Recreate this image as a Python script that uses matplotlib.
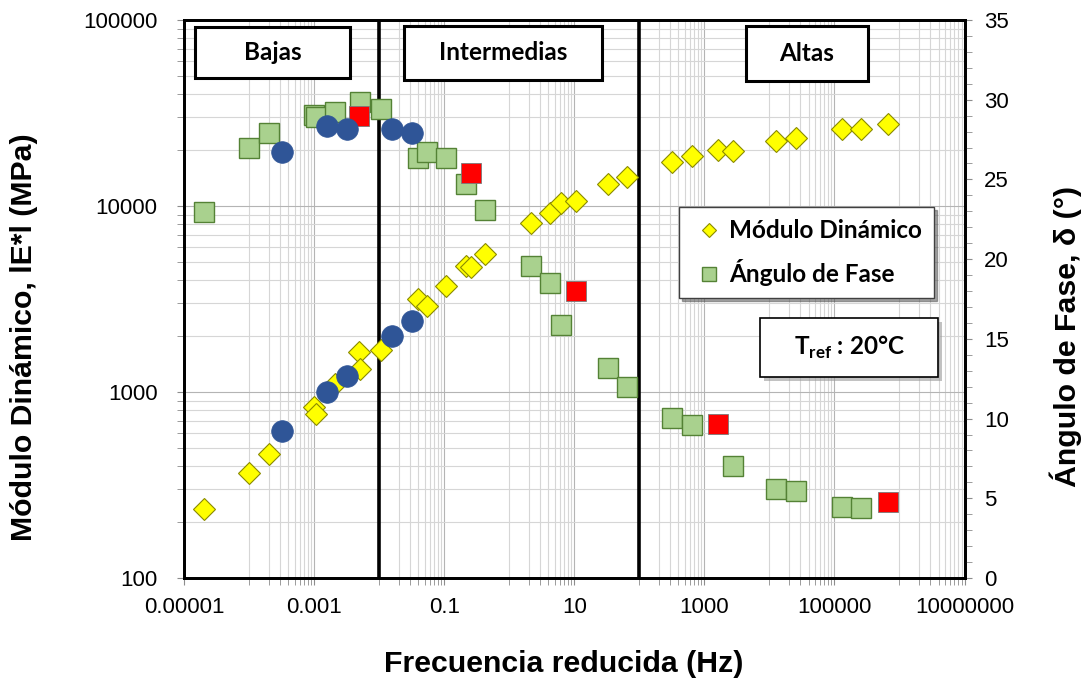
import numpy as np
import matplotlib.pyplot as plt
from matplotlib.lines import Line2D
from matplotlib.patches import Rectangle
from matplotlib.font_manager import FontProperties
from matplotlib.ticker import FixedLocator, LogLocator, MultipleLocator, NullFormatter, FuncFormatter

plt.rcParams['font.family'] = ['Liberation Sans', 'DejaVu Sans']
plt.rcParams['mathtext.fontset'] = 'custom'
plt.rcParams['mathtext.rm'] = 'Lato:bold'
plt.rcParams['mathtext.bf'] = 'Lato:bold'

# modulo dinamico |E*| (MPa) vs frecuencia reducida (Hz)
frec_mod = [2.0e-5, 1.0e-4, 2.0e-4, 1.0e-3, 1.07e-3, 2.1e-3, 4.9e-3, 5.1e-3, 1.06e-2,
            0.040, 0.054, 0.107, 0.22, 0.26, 0.427, 2.18, 4.27, 6.24, 10.6, 32.5, 64.6,
            318, 646, 1603, 2724, 12820, 25700, 131200, 257000, 661000]
modulo = [235, 365, 463, 826, 761, 1104, 1634, 1330, 1690,
          3168, 2917, 3737, 4750, 4690, 5534, 8090, 9160, 10370, 10590, 13180, 14310,
          17230, 18570, 19900, 19750, 22380, 23210, 25850, 26080, 27500]

# angulo de fase (grados) vs frecuencia reducida
frec_ang = [2.0e-5, 1.0e-4, 2.0e-4, 1.0e-3, 1.07e-3, 2.1e-3, 5.1e-3, 1.06e-2,
            0.040, 0.054, 0.107, 0.22, 0.427, 2.18, 4.27, 6.24, 32.5, 64.6,
            318, 646, 2724, 12820, 25700, 131200, 257000]
angulo = [22.96, 26.94, 27.93, 29.04, 28.93, 29.25, 29.87, 29.42,
          26.32, 26.73, 26.32, 24.74, 23.07, 19.55, 18.5, 15.84, 13.18, 12.0,
          10.01, 9.6, 7.0, 5.61, 5.47, 4.48, 4.42]

# puntos de angulo resaltados
frec_rojo = [4.9e-3, 0.26, 10.6, 1603, 661000]
angulo_rojo = [28.98, 25.43, 18.0, 9.66, 4.78]

# serie azul (modulo y angulo)
frec_azul = [3.25e-4, 1.6e-3, 3.2e-3, 1.6e-2, 3.2e-2]
modulo_azul = [614, 995, 1224, 2010, 2420]
angulo_azul = [26.73, 28.37, 28.14, 28.14, 27.93]

limites = [0.01, 100]
zonas = ['Bajas', 'Intermedias', 'Altas']
x_mayores = [1e-5, 1e-3, 1e-1, 1e1, 1e3, 1e5, 1e7]

W, H = 1087, 683
fig = plt.figure(figsize=(W / 100, H / 100), dpi=100)
ax = fig.add_axes([184 / W, 1 - 578 / H, (964.5 - 184) / W, (578 - 20) / H])
ax2 = ax.twinx()

ax.set_xscale('log')
ax.set_yscale('log')
ax.set_xlim(1e-5, 1e7)
ax.set_ylim(100, 100000)
ax2.set_ylim(0, 35)

# rejilla: menores solo en la segunda decada de cada par
x_menores = [m * 10 * k for m in x_mayores[:-1] for k in range(1, 10)]
ax.xaxis.set_major_locator(FixedLocator(x_mayores))
ax.xaxis.set_minor_locator(FixedLocator(x_menores))
ax.xaxis.set_minor_formatter(NullFormatter())


def fmt_dec(v, pos=None):
    n = max(0, -int(np.floor(np.log10(v) + 1e-9)))
    return f"{v:.{n}f}"


ax.xaxis.set_major_formatter(FuncFormatter(fmt_dec))
ax.yaxis.set_major_locator(LogLocator(base=10, numticks=10))
ax.yaxis.set_minor_locator(LogLocator(base=10, subs=np.arange(2, 10), numticks=20))
ax.yaxis.set_major_formatter(FuncFormatter(lambda v, p: f"{v:.0f}"))
ax.yaxis.set_minor_formatter(NullFormatter())
ax2.yaxis.set_major_locator(MultipleLocator(5))
ax2.yaxis.set_minor_locator(MultipleLocator(1))

ax.grid(which='major', color='#b4b4b4', lw=0.8)
ax.grid(which='minor', color='#d6d6d6', lw=0.8)
ax.set_axisbelow(True)

ax.tick_params(axis='x', which='both', direction='out', length=5, color='#8c8c8c',
               labelsize=16, pad=9)
ax.tick_params(axis='y', which='both', direction='out', length=5, color='#8c8c8c',
               labelsize=16, pad=14)
ax2.tick_params(axis='y', which='both', direction='out', length=5, color='#8c8c8c',
                labelsize=16, pad=9)

for a in (ax, ax2):
    for s in a.spines.values():
        s.set_linewidth(2)
        s.set_color('black')

for lim in limites:
    ax.axvline(lim, color='black', lw=2.6, zorder=2)

# modulo
ax.plot(frec_mod, modulo, 'D', ms=10.7, mfc='#ffff00', mec='#8a8a00', mew=0.8, zorder=3,
        label='Módulo Dinámico')
ax.plot(frec_azul, modulo_azul, 'o', ms=15.6, mfc='#2f5597', mec='#2f5597', mew=0.5, zorder=4)

# angulo de fase
ax2.plot(frec_ang, angulo, 's', ms=14.9, mfc='#a9d18e', mec='#548235', mew=1.0, zorder=3,
         label='Ángulo de Fase')
ax2.plot(frec_rojo, angulo_rojo, 's', ms=14.6, mfc='#ff0000', mec='#7a7a7a', mew=0.6, zorder=4)
ax2.plot(frec_azul, angulo_azul, 'o', ms=15.6, mfc='#2f5597', mec='#2f5597', mew=0.5, zorder=5)

fuente = FontProperties(family='Lato', weight='bold', size=17.5)

h1 = Line2D([], [], ls='none', marker='D', ms=10.7, mfc='#ffff00', mec='#8a8a00', mew=0.8)
h2 = Line2D([], [], ls='none', marker='s', ms=14.9, mfc='#a9d18e', mec='#548235', mew=1.0)
leg = ax2.legend([h1, h2], ['Módulo Dinámico', 'Ángulo de Fase'], loc='upper left',
                 bbox_to_anchor=(679 / W, 1 - 207 / H), bbox_transform=fig.transFigure,
                 prop=fuente, frameon=True, fancybox=False, shadow=True, markerscale=0.68,
                 handlelength=1.5, handletextpad=0.05, borderpad=0.5, labelspacing=0.7,
                 borderaxespad=0)
leg.get_frame().set_edgecolor('#404040')
leg.get_frame().set_linewidth(1.0)


def caja(x0, y0, x1, y1, texto, sombra=False):
    if sombra:
        fig.add_artist(Rectangle(((x0 + 4) / W, 1 - (y1 + 4) / H), (x1 - x0) / W, (y1 - y0) / H,
                                 transform=fig.transFigure, fc='#9a9a9a', ec='none',
                                 alpha=0.6, zorder=9))
    fig.add_artist(Rectangle((x0 / W, 1 - y1 / H), (x1 - x0) / W, (y1 - y0) / H,
                             transform=fig.transFigure, fc='white', ec='black',
                             lw=2.2 if not sombra else 1.2, zorder=10))
    fig.text((x0 + x1) / 2 / W, 1 - (y0 + y1) / 2 / H, texto, ha='center', va='center',
             fontproperties=fuente, zorder=11)


caja(195, 27, 350, 78, zonas[0])
caja(404, 26, 602, 80, zonas[1])
caja(746, 26, 868, 81, zonas[2])
caja(760, 318, 938, 377, r'T$_{\mathrm{ref}}$ : 20°C', sombra=True)

fig.text(564 / W, 1 - 672 / H, 'Frecuencia reducida (Hz)', ha='center', va='baseline',
         fontsize=21.8, fontweight='bold')
fig.text(24 / W, 1 - 337 / H, 'Módulo Dinámico, lE*l (MPa)', ha='center', va='center',
         rotation=90, fontsize=21.8, fontweight='bold')
fig.text(1066 / W, 1 - 337 / H, 'Ángulo de Fase, δ (°)', ha='center', va='center',
         rotation=90, fontsize=21.8, fontweight='bold')

fig.savefig('out.png', dpi=100)
